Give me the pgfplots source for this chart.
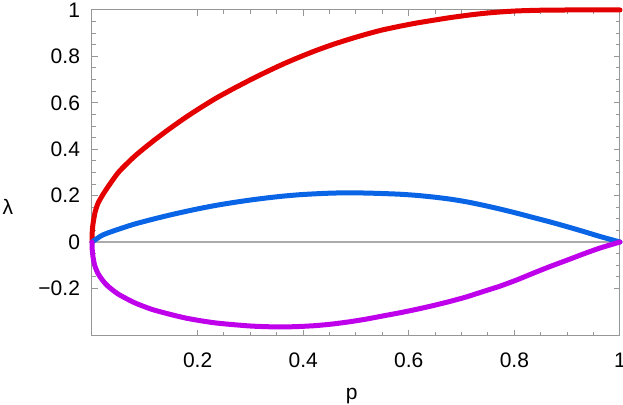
\documentclass[border=0pt]{standalone}
\usepackage{pgfplots}
\pgfplotsset{compat=1.18}
\usepackage{fontspec}
\setmainfont{Liberation Sans}
\definecolor{cred}{RGB}{228,0,0}
\definecolor{cblue}{RGB}{10,100,230}
\definecolor{cpurple}{RGB}{190,0,235}
\definecolor{framegray}{RGB}{150,150,150}
\begin{document}
\begin{tikzpicture}
\begin{axis}[
  scale only axis,
  width=264pt, height=163pt,
  xmin=0, xmax=1, ymin=-0.405, ymax=1,
  clip=false,
  axis line style={framegray, line width=0.5pt},
  tick style={framegray, line width=0.5pt},
  major tick length=3pt, minor tick length=1.8pt,
  tick align=inside, tick pos=both,
  xtick={0.2,0.4,0.6,0.8,1},
  xticklabels={0.2,0.4,0.6,0.8,1},
  ytick={-0.2,0,0.2,0.4,0.6,0.8,1},
  yticklabels={−0.2,0,0.2,0.4,0.6,0.8,1},
  minor x tick num=3, minor y tick num=3,
  tick label style={font=\fontsize{10.5}{12}\selectfont, black},
  xticklabel style={yshift=-5pt},
  yticklabel style={xshift=-2.5pt},
  every axis plot/.append style={line join=round, line cap=round},
]
\addplot[framegray!80, line width=0.75pt, line cap=butt] coordinates {(0,0) (1,0)};
\addplot[cred, line width=2.5pt, smooth, tension=0.4] coordinates {
(0,0) (0.0005,0.045) (0.002,0.08) (0.006,0.13) (0.012,0.17) (0.025,0.22)
(0.05,0.30) (0.081,0.37) (0.113,0.43) (0.145,0.485) (0.176,0.535)
(0.205,0.578) (0.235,0.62) (0.267,0.66) (0.30,0.699) (0.331,0.734)
(0.363,0.768) (0.394,0.798) (0.425,0.826) (0.457,0.852) (0.49,0.876)
(0.52,0.896) (0.55,0.914) (0.583,0.93) (0.615,0.944) (0.65,0.957)
(0.678,0.967) (0.71,0.977) (0.74,0.985) (0.77,0.991) (0.805,0.996)
(0.85,0.999) (0.9,1) (1,1)};
\addplot[cblue, line width=2.5pt, smooth, tension=0.4] coordinates {
(0,0) (0.02,0.03) (0.05,0.055) (0.08,0.077) (0.113,0.097) (0.145,0.115)
(0.176,0.131) (0.205,0.145) (0.235,0.158) (0.267,0.17) (0.3,0.181)
(0.331,0.19) (0.363,0.198) (0.394,0.204) (0.425,0.208) (0.457,0.211)
(0.49,0.212) (0.52,0.211) (0.55,0.209) (0.583,0.206) (0.615,0.201)
(0.646,0.194) (0.678,0.185) (0.71,0.173) (0.74,0.159) (0.773,0.142)
(0.805,0.124) (0.835,0.106) (0.867,0.087) (0.9,0.066) (0.93,0.046)
(0.962,0.024) (1,0)};
\addplot[cpurple, line width=2.5pt, smooth, tension=0.4] coordinates {
(0,0) (0.0005,-0.035) (0.002,-0.065) (0.005,-0.1) (0.011,-0.134)
(0.02,-0.165) (0.03,-0.19) (0.05,-0.225) (0.081,-0.262) (0.113,-0.29)
(0.145,-0.31) (0.176,-0.327) (0.205,-0.339) (0.235,-0.349) (0.267,-0.356)
(0.3,-0.362) (0.331,-0.365) (0.363,-0.366) (0.394,-0.364) (0.425,-0.36)
(0.457,-0.353) (0.49,-0.343) (0.52,-0.332) (0.55,-0.319) (0.583,-0.305)
(0.615,-0.29) (0.646,-0.274) (0.678,-0.256) (0.71,-0.236) (0.74,-0.214)
(0.773,-0.19) (0.805,-0.163) (0.835,-0.135) (0.867,-0.106) (0.9,-0.078)
(0.93,-0.052) (0.962,-0.026) (1,0)};
\node[font=\fontsize{10.5}{12}\selectfont, anchor=base] at (rel axis cs:0.492,0) [yshift=-32pt] {p};
\node[font=\fontsize{10.5}{12}\selectfont] at (rel axis cs:0,0.396) [xshift=-42pt] {λ};
\end{axis}
\pgfresetboundingbox
\path[use as bounding box] (-46pt,-34.5pt) rectangle (265.5pt,168pt);
\end{tikzpicture}
\end{document}
